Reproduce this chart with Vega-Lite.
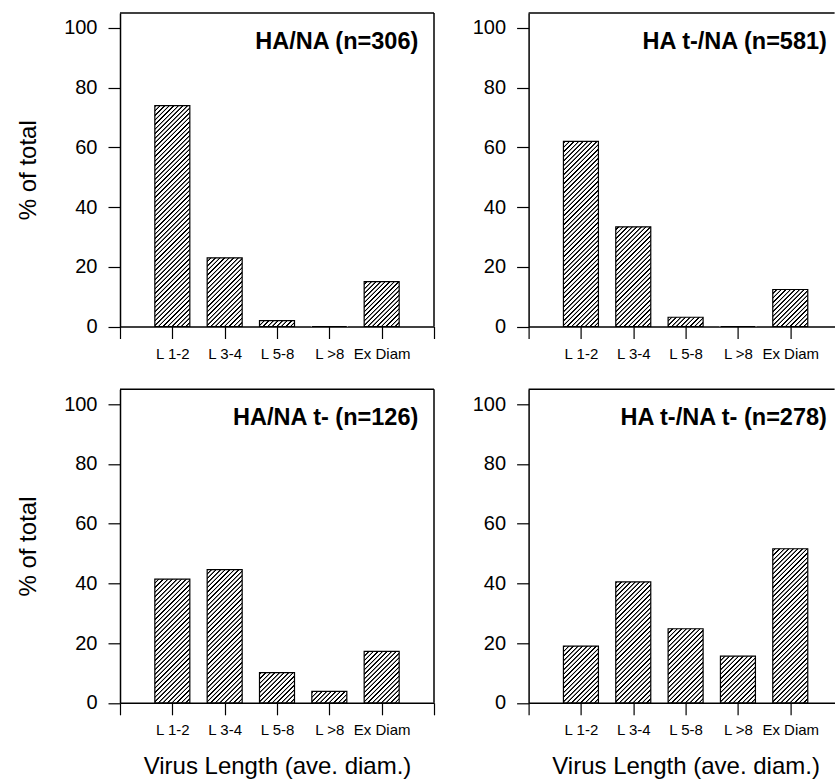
{
  "$schema": "https://vega.github.io/schema/vega-lite/v6.json",
  "background": "white",
  "padding": {"left": 16, "top": 12, "right": 0, "bottom": 0},
  "columns": 2,
  "bounds": "flush",
  "spacing": {"row": 62.3, "column": 94.6},
  "datasets": {
    "d": [
      {"panel": "HA/NA (n=306)", "idx": 1, "length": "L 1-2", "value": 74},
      {"panel": "HA/NA (n=306)", "idx": 2, "length": "L 3-4", "value": 23},
      {"panel": "HA/NA (n=306)", "idx": 3, "length": "L 5-8", "value": 2},
      {"panel": "HA/NA (n=306)", "idx": 4, "length": "L >8", "value": 0},
      {"panel": "HA/NA (n=306)", "idx": 5, "length": "Ex Diam", "value": 15},
      {"panel": "HA t-/NA (n=581)", "idx": 1, "length": "L 1-2", "value": 62},
      {"panel": "HA t-/NA (n=581)", "idx": 2, "length": "L 3-4", "value": 33.4},
      {"panel": "HA t-/NA (n=581)", "idx": 3, "length": "L 5-8", "value": 3.1},
      {"panel": "HA t-/NA (n=581)", "idx": 4, "length": "L >8", "value": 0},
      {"panel": "HA t-/NA (n=581)", "idx": 5, "length": "Ex Diam", "value": 12.4},
      {"panel": "HA/NA t- (n=126)", "idx": 1, "length": "L 1-2", "value": 41.4},
      {"panel": "HA/NA t- (n=126)", "idx": 2, "length": "L 3-4", "value": 44.6},
      {"panel": "HA/NA t- (n=126)", "idx": 3, "length": "L 5-8", "value": 10.1},
      {"panel": "HA/NA t- (n=126)", "idx": 4, "length": "L >8", "value": 3.8},
      {"panel": "HA/NA t- (n=126)", "idx": 5, "length": "Ex Diam", "value": 17.2},
      {"panel": "HA t-/NA t- (n=278)", "idx": 1, "length": "L 1-2", "value": 19.0},
      {"panel": "HA t-/NA t- (n=278)", "idx": 2, "length": "L 3-4", "value": 40.5},
      {"panel": "HA t-/NA t- (n=278)", "idx": 3, "length": "L 5-8", "value": 24.8},
      {"panel": "HA t-/NA t- (n=278)", "idx": 4, "length": "L >8", "value": 15.6},
      {"panel": "HA t-/NA t- (n=278)", "idx": 5, "length": "Ex Diam", "value": 51.6}
    ]
  },
  "concat": [
    {
      "width": 314, "height": 313.5,
      "data": {"name": "d"},
      "transform": [{"filter": "datum.panel == 'HA/NA (n=306)'"}],
      "layer": [
        {"mark": {"type": "bar", "width": 35},
         "encoding": {
           "x": {"field": "idx", "type": "quantitative", "scale": {"domain": [0, 6], "nice": false, "zero": false, "padding": 0}, "axis": {"title": null, "labelExpr": "['','L 1-2','L 3-4','L 5-8','L >8','Ex Diam',''][datum.value]"}},
           "y": {"datum": 80, "type": "quantitative", "scale": {"domain": [0, 105], "nice": false, "padding": 0}, "axis": {"title": "% of total"}},
           "y2": {"datum": 0}}},
        {"mark": {"type": "bar", "fill": "white", "width": 37, "strokeWidth": 0},
         "encoding": {"x": {"field": "idx", "type": "quantitative"}, "y": {"field": "value", "type": "quantitative"}, "y2": {"datum": 82}}},
        {"mark": {"type": "bar", "fill": "transparent", "stroke": "black", "strokeWidth": 1.2, "width": 35},
         "encoding": {"x": {"field": "idx", "type": "quantitative"}, "y": {"field": "value", "type": "quantitative"}, "y2": {"datum": 0}}},
        {"transform": [{"filter": "datum.idx == 1"}], "mark": {"type": "rule", "stroke": "black", "strokeWidth": 1.5}, "encoding": {"y": {"datum": 105}}},
        {"transform": [{"filter": "datum.idx == 1"}], "mark": {"type": "rule", "stroke": "black", "strokeWidth": 1.5}, "encoding": {"x": {"datum": 6}}},
        {"transform": [{"filter": "datum.idx == 1"}], "mark": {"type": "text", "align": "right", "baseline": "alphabetic", "fontSize": 23.5, "fontWeight": "bold", "color": "black"},
         "encoding": {"text": {"field": "panel"}, "x": {"datum": 5.7}, "y": {"datum": 93}}}
      ]
    },
    {
      "width": 306, "height": 313.5,
      "data": {"name": "d"},
      "transform": [{"filter": "datum.panel == 'HA t-/NA (n=581)'"}],
      "layer": [
        {"mark": {"type": "bar", "width": 35},
         "encoding": {
           "x": {"field": "idx", "type": "quantitative", "scale": {"domain": [0, 5.847], "nice": false, "zero": false, "padding": 0}, "axis": {"title": null, "labelExpr": "['','L 1-2','L 3-4','L 5-8','L >8','Ex Diam',''][datum.value]"}},
           "y": {"datum": 80, "type": "quantitative", "scale": {"domain": [0, 105], "nice": false, "padding": 0}, "axis": {"title": null}},
           "y2": {"datum": 0}}},
        {"mark": {"type": "bar", "fill": "white", "width": 37, "strokeWidth": 0},
         "encoding": {"x": {"field": "idx", "type": "quantitative"}, "y": {"field": "value", "type": "quantitative"}, "y2": {"datum": 82}}},
        {"mark": {"type": "bar", "fill": "transparent", "stroke": "black", "strokeWidth": 1.2, "width": 35},
         "encoding": {"x": {"field": "idx", "type": "quantitative"}, "y": {"field": "value", "type": "quantitative"}, "y2": {"datum": 0}}},
        {"transform": [{"filter": "datum.idx == 1"}], "mark": {"type": "rule", "stroke": "black", "strokeWidth": 1.5}, "encoding": {"y": {"datum": 105}}},
        {"transform": [{"filter": "datum.idx == 1"}], "mark": {"type": "text", "align": "right", "baseline": "alphabetic", "fontSize": 23.5, "fontWeight": "bold", "color": "black"},
         "encoding": {"text": {"field": "panel"}, "x": {"datum": 5.7}, "y": {"datum": 93}}}
      ]
    },
    {
      "width": 314, "height": 313.5,
      "data": {"name": "d"},
      "transform": [{"filter": "datum.panel == 'HA/NA t- (n=126)'"}],
      "layer": [
        {"mark": {"type": "bar", "width": 35},
         "encoding": {
           "x": {"field": "idx", "type": "quantitative", "scale": {"domain": [0, 6], "nice": false, "zero": false, "padding": 0}, "axis": {"title": "Virus Length (ave. diam.)", "labelExpr": "['','L 1-2','L 3-4','L 5-8','L >8','Ex Diam',''][datum.value]"}},
           "y": {"datum": 80, "type": "quantitative", "scale": {"domain": [0, 105], "nice": false, "padding": 0}, "axis": {"title": "% of total"}},
           "y2": {"datum": 0}}},
        {"mark": {"type": "bar", "fill": "white", "width": 37, "strokeWidth": 0},
         "encoding": {"x": {"field": "idx", "type": "quantitative"}, "y": {"field": "value", "type": "quantitative"}, "y2": {"datum": 82}}},
        {"mark": {"type": "bar", "fill": "transparent", "stroke": "black", "strokeWidth": 1.2, "width": 35},
         "encoding": {"x": {"field": "idx", "type": "quantitative"}, "y": {"field": "value", "type": "quantitative"}, "y2": {"datum": 0}}},
        {"transform": [{"filter": "datum.idx == 1"}], "mark": {"type": "rule", "stroke": "black", "strokeWidth": 1.5}, "encoding": {"y": {"datum": 105}}},
        {"transform": [{"filter": "datum.idx == 1"}], "mark": {"type": "rule", "stroke": "black", "strokeWidth": 1.5}, "encoding": {"x": {"datum": 6}}},
        {"transform": [{"filter": "datum.idx == 1"}], "mark": {"type": "text", "align": "right", "baseline": "alphabetic", "fontSize": 23.5, "fontWeight": "bold", "color": "black"},
         "encoding": {"text": {"field": "panel"}, "x": {"datum": 5.7}, "y": {"datum": 93}}}
      ]
    },
    {
      "width": 306, "height": 313.5,
      "data": {"name": "d"},
      "transform": [{"filter": "datum.panel == 'HA t-/NA t- (n=278)'"}],
      "layer": [
        {"mark": {"type": "bar", "width": 35},
         "encoding": {
           "x": {"field": "idx", "type": "quantitative", "scale": {"domain": [0, 5.847], "nice": false, "zero": false, "padding": 0}, "axis": {"title": "Virus Length (ave. diam.)", "labelExpr": "['','L 1-2','L 3-4','L 5-8','L >8','Ex Diam',''][datum.value]"}},
           "y": {"datum": 80, "type": "quantitative", "scale": {"domain": [0, 105], "nice": false, "padding": 0}, "axis": {"title": null}},
           "y2": {"datum": 0}}},
        {"mark": {"type": "bar", "fill": "white", "width": 37, "strokeWidth": 0},
         "encoding": {"x": {"field": "idx", "type": "quantitative"}, "y": {"field": "value", "type": "quantitative"}, "y2": {"datum": 82}}},
        {"mark": {"type": "bar", "fill": "transparent", "stroke": "black", "strokeWidth": 1.2, "width": 35},
         "encoding": {"x": {"field": "idx", "type": "quantitative"}, "y": {"field": "value", "type": "quantitative"}, "y2": {"datum": 0}}},
        {"transform": [{"filter": "datum.idx == 1"}], "mark": {"type": "rule", "stroke": "black", "strokeWidth": 1.5}, "encoding": {"y": {"datum": 105}}},
        {"transform": [{"filter": "datum.idx == 1"}], "mark": {"type": "text", "align": "right", "baseline": "alphabetic", "fontSize": 23.5, "fontWeight": "bold", "color": "black"},
         "encoding": {"text": {"field": "panel"}, "x": {"datum": 5.7}, "y": {"datum": 93}}}
      ]
    }
  ],
  "config": {
    "font": "Liberation Sans",
    "view": {"stroke": null},
    "axis": {"zindex": 1, "grid": false, "domainColor": "black", "domainWidth": 1.5, "tickColor": "black", "tickWidth": 1.2, "tickSize": 12, "labelColor": "black", "titleColor": "black", "titleFontWeight": "normal", "titleFontSize": 24, "labelFlush": false, "labelOverlap": false},
    "axisX": {"labelFontSize": 15, "labelPadding": 20, "labelBaseline": "alphabetic", "tickCount": 6, "titleX": 157, "titleY": 71, "titleBaseline": "alphabetic", "titleAlign": "center"},
    "axisY": {"labelFontSize": 20, "labelPadding": 11, "tickCount": 5, "titleAngle": 270, "titleX": -85, "titleY": 156.75, "titleBaseline": "alphabetic", "titleAlign": "center"},
    "mark": {
      "color": {
        "gradient": "linear", "x1": 0, "y1": 0, "x2": 0.1644, "y2": 1.1224,
        "stops": [
          {"offset":0,"color":"#000"},{"offset":0.004,"color":"#000"},{"offset":0.006,"color":"#fff"},{"offset":0.0147,"color":"#fff"},{"offset":0.0167,"color":"#000"},{"offset":0.0207,"color":"#000"},{"offset":0.0227,"color":"#fff"},{"offset":0.0314,"color":"#fff"},{"offset":0.0333,"color":"#000"},{"offset":0.0373,"color":"#000"},{"offset":0.0393,"color":"#fff"},{"offset":0.048,"color":"#fff"},{"offset":0.05,"color":"#000"},{"offset":0.054,"color":"#000"},{"offset":0.056,"color":"#fff"},{"offset":0.0647,"color":"#fff"},{"offset":0.0667,"color":"#000"},{"offset":0.0707,"color":"#000"},{"offset":0.0727,"color":"#fff"},{"offset":0.0814,"color":"#fff"},{"offset":0.0833,"color":"#000"},{"offset":0.0873,"color":"#000"},{"offset":0.0893,"color":"#fff"},{"offset":0.098,"color":"#fff"},
          {"offset":0.1,"color":"#000"},{"offset":0.104,"color":"#000"},{"offset":0.106,"color":"#fff"},{"offset":0.1147,"color":"#fff"},{"offset":0.1167,"color":"#000"},{"offset":0.1207,"color":"#000"},{"offset":0.1227,"color":"#fff"},{"offset":0.1314,"color":"#fff"},{"offset":0.1333,"color":"#000"},{"offset":0.1373,"color":"#000"},{"offset":0.1393,"color":"#fff"},{"offset":0.148,"color":"#fff"},{"offset":0.15,"color":"#000"},{"offset":0.154,"color":"#000"},{"offset":0.156,"color":"#fff"},{"offset":0.1647,"color":"#fff"},{"offset":0.1667,"color":"#000"},{"offset":0.1707,"color":"#000"},{"offset":0.1727,"color":"#fff"},{"offset":0.1814,"color":"#fff"},{"offset":0.1833,"color":"#000"},{"offset":0.1873,"color":"#000"},{"offset":0.1893,"color":"#fff"},{"offset":0.198,"color":"#fff"},
          {"offset":0.2,"color":"#000"},{"offset":0.204,"color":"#000"},{"offset":0.206,"color":"#fff"},{"offset":0.2147,"color":"#fff"},{"offset":0.2167,"color":"#000"},{"offset":0.2207,"color":"#000"},{"offset":0.2227,"color":"#fff"},{"offset":0.2314,"color":"#fff"},{"offset":0.2333,"color":"#000"},{"offset":0.2373,"color":"#000"},{"offset":0.2393,"color":"#fff"},{"offset":0.248,"color":"#fff"},{"offset":0.25,"color":"#000"},{"offset":0.254,"color":"#000"},{"offset":0.256,"color":"#fff"},{"offset":0.2647,"color":"#fff"},{"offset":0.2667,"color":"#000"},{"offset":0.2707,"color":"#000"},{"offset":0.2727,"color":"#fff"},{"offset":0.2814,"color":"#fff"},{"offset":0.2833,"color":"#000"},{"offset":0.2873,"color":"#000"},{"offset":0.2893,"color":"#fff"},{"offset":0.298,"color":"#fff"},
          {"offset":0.3,"color":"#000"},{"offset":0.304,"color":"#000"},{"offset":0.306,"color":"#fff"},{"offset":0.3147,"color":"#fff"},{"offset":0.3167,"color":"#000"},{"offset":0.3207,"color":"#000"},{"offset":0.3227,"color":"#fff"},{"offset":0.3314,"color":"#fff"},{"offset":0.3333,"color":"#000"},{"offset":0.3373,"color":"#000"},{"offset":0.3393,"color":"#fff"},{"offset":0.348,"color":"#fff"},{"offset":0.35,"color":"#000"},{"offset":0.354,"color":"#000"},{"offset":0.356,"color":"#fff"},{"offset":0.3647,"color":"#fff"},{"offset":0.3667,"color":"#000"},{"offset":0.3707,"color":"#000"},{"offset":0.3727,"color":"#fff"},{"offset":0.3814,"color":"#fff"},{"offset":0.3833,"color":"#000"},{"offset":0.3873,"color":"#000"},{"offset":0.3893,"color":"#fff"},{"offset":0.398,"color":"#fff"},
          {"offset":0.4,"color":"#000"},{"offset":0.404,"color":"#000"},{"offset":0.406,"color":"#fff"},{"offset":0.4147,"color":"#fff"},{"offset":0.4167,"color":"#000"},{"offset":0.4207,"color":"#000"},{"offset":0.4227,"color":"#fff"},{"offset":0.4314,"color":"#fff"},{"offset":0.4333,"color":"#000"},{"offset":0.4373,"color":"#000"},{"offset":0.4393,"color":"#fff"},{"offset":0.448,"color":"#fff"},{"offset":0.45,"color":"#000"},{"offset":0.454,"color":"#000"},{"offset":0.456,"color":"#fff"},{"offset":0.4647,"color":"#fff"},{"offset":0.4667,"color":"#000"},{"offset":0.4707,"color":"#000"},{"offset":0.4727,"color":"#fff"},{"offset":0.4814,"color":"#fff"},{"offset":0.4833,"color":"#000"},{"offset":0.4873,"color":"#000"},{"offset":0.4893,"color":"#fff"},{"offset":0.498,"color":"#fff"},
          {"offset":0.5,"color":"#000"},{"offset":0.504,"color":"#000"},{"offset":0.506,"color":"#fff"},{"offset":0.5147,"color":"#fff"},{"offset":0.5167,"color":"#000"},{"offset":0.5207,"color":"#000"},{"offset":0.5227,"color":"#fff"},{"offset":0.5314,"color":"#fff"},{"offset":0.5333,"color":"#000"},{"offset":0.5373,"color":"#000"},{"offset":0.5393,"color":"#fff"},{"offset":0.548,"color":"#fff"},{"offset":0.55,"color":"#000"},{"offset":0.554,"color":"#000"},{"offset":0.556,"color":"#fff"},{"offset":0.5647,"color":"#fff"},{"offset":0.5667,"color":"#000"},{"offset":0.5707,"color":"#000"},{"offset":0.5727,"color":"#fff"},{"offset":0.5814,"color":"#fff"},{"offset":0.5833,"color":"#000"},{"offset":0.5873,"color":"#000"},{"offset":0.5893,"color":"#fff"},{"offset":0.598,"color":"#fff"},
          {"offset":0.6,"color":"#000"},{"offset":0.604,"color":"#000"},{"offset":0.606,"color":"#fff"},{"offset":0.6147,"color":"#fff"},{"offset":0.6167,"color":"#000"},{"offset":0.6207,"color":"#000"},{"offset":0.6227,"color":"#fff"},{"offset":0.6314,"color":"#fff"},{"offset":0.6333,"color":"#000"},{"offset":0.6373,"color":"#000"},{"offset":0.6393,"color":"#fff"},{"offset":0.648,"color":"#fff"},{"offset":0.65,"color":"#000"},{"offset":0.654,"color":"#000"},{"offset":0.656,"color":"#fff"},{"offset":0.6647,"color":"#fff"},{"offset":0.6667,"color":"#000"},{"offset":0.6707,"color":"#000"},{"offset":0.6727,"color":"#fff"},{"offset":0.6814,"color":"#fff"},{"offset":0.6833,"color":"#000"},{"offset":0.6873,"color":"#000"},{"offset":0.6893,"color":"#fff"},{"offset":0.698,"color":"#fff"},
          {"offset":0.7,"color":"#000"},{"offset":0.704,"color":"#000"},{"offset":0.706,"color":"#fff"},{"offset":0.7147,"color":"#fff"},{"offset":0.7167,"color":"#000"},{"offset":0.7207,"color":"#000"},{"offset":0.7227,"color":"#fff"},{"offset":0.7314,"color":"#fff"},{"offset":0.7333,"color":"#000"},{"offset":0.7373,"color":"#000"},{"offset":0.7393,"color":"#fff"},{"offset":0.748,"color":"#fff"},{"offset":0.75,"color":"#000"},{"offset":0.754,"color":"#000"},{"offset":0.756,"color":"#fff"},{"offset":0.7647,"color":"#fff"},{"offset":0.7667,"color":"#000"},{"offset":0.7707,"color":"#000"},{"offset":0.7727,"color":"#fff"},{"offset":0.7814,"color":"#fff"},{"offset":0.7833,"color":"#000"},{"offset":0.7873,"color":"#000"},{"offset":0.7893,"color":"#fff"},{"offset":0.798,"color":"#fff"},
          {"offset":0.8,"color":"#000"},{"offset":0.804,"color":"#000"},{"offset":0.806,"color":"#fff"},{"offset":0.8147,"color":"#fff"},{"offset":0.8167,"color":"#000"},{"offset":0.8207,"color":"#000"},{"offset":0.8227,"color":"#fff"},{"offset":0.8314,"color":"#fff"},{"offset":0.8333,"color":"#000"},{"offset":0.8373,"color":"#000"},{"offset":0.8393,"color":"#fff"},{"offset":0.848,"color":"#fff"},{"offset":0.85,"color":"#000"},{"offset":0.854,"color":"#000"},{"offset":0.856,"color":"#fff"},{"offset":0.8647,"color":"#fff"},{"offset":0.8667,"color":"#000"},{"offset":0.8707,"color":"#000"},{"offset":0.8727,"color":"#fff"},{"offset":0.8814,"color":"#fff"},{"offset":0.8833,"color":"#000"},{"offset":0.8873,"color":"#000"},{"offset":0.8893,"color":"#fff"},{"offset":0.898,"color":"#fff"},
          {"offset":0.9,"color":"#000"},{"offset":0.904,"color":"#000"},{"offset":0.906,"color":"#fff"},{"offset":0.9147,"color":"#fff"},{"offset":0.9167,"color":"#000"},{"offset":0.9207,"color":"#000"},{"offset":0.9227,"color":"#fff"},{"offset":0.9314,"color":"#fff"},{"offset":0.9333,"color":"#000"},{"offset":0.9373,"color":"#000"},{"offset":0.9393,"color":"#fff"},{"offset":0.948,"color":"#fff"},{"offset":0.95,"color":"#000"},{"offset":0.954,"color":"#000"},{"offset":0.956,"color":"#fff"},{"offset":0.9647,"color":"#fff"},{"offset":0.9667,"color":"#000"},{"offset":0.9707,"color":"#000"},{"offset":0.9727,"color":"#fff"},{"offset":0.9814,"color":"#fff"},{"offset":0.9833,"color":"#000"},{"offset":0.9873,"color":"#000"},{"offset":0.9893,"color":"#fff"},{"offset":0.998,"color":"#fff"},
          {"offset":1,"color":"#000"}
        ]
      }
    }
  }
}
